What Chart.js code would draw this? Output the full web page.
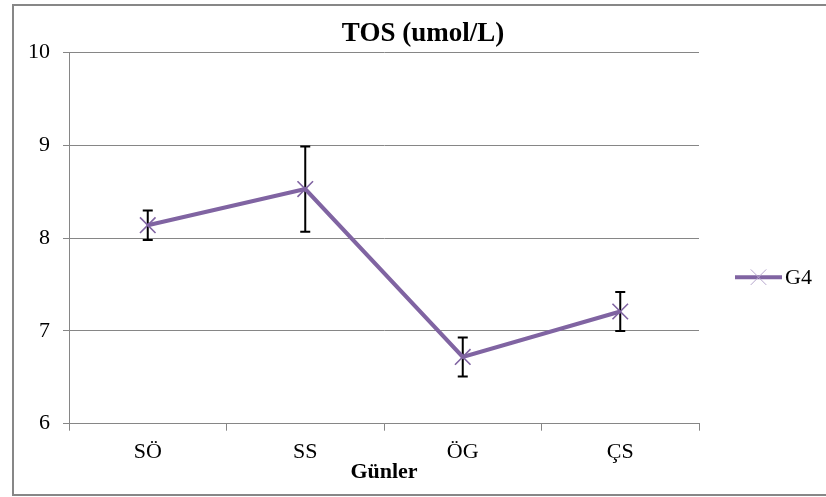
<!DOCTYPE html>
<html>
<head>
<meta charset="utf-8">
<script src="https://cdn.jsdelivr.net/npm/chart.js@4/dist/chart.umd.min.js"></script>
<style>
  html, body { margin: 0; padding: 0; background: #fff; width: 826px; height: 497px; overflow: hidden; }
  #frame { position: absolute; left: 12px; top: 4px; width: 900px; height: 492px; box-sizing: border-box; border: 2px solid #878787; }
  #c { position: absolute; left: 0; top: 0; }
</style>
</head>
<body>
<div id="frame"></div>
<canvas id="c" width="826" height="497"></canvas>
<script>
// Sampling days and G4 group TOS values (mean and error)
const days = ['SÖ', 'SS', 'ÖG', 'ÇS'];
const g4Mean = [8.14, 8.53, 6.72, 7.21];
const g4Err = [0.16, 0.46, 0.21, 0.21];
const yMin = 6;
const yMax = 10;
const yStep = 1;

const SERIF = "'Liberation Serif', 'Times New Roman', serif";
const PURPLE = '#8064A2';
const GRID = '#868686';

// Vertical error bars with caps, drawn under the series line
const errorBars = {
  id: 'errorBars',
  beforeDatasetsDraw(chart) {
    const { ctx } = chart;
    const yScale = chart.scales.y;
    const meta = chart.getDatasetMeta(0);
    ctx.save();
    ctx.strokeStyle = '#000';
    ctx.lineWidth = 2;
    meta.data.forEach((pt, i) => {
      const x = pt.x;
      const yTop = yScale.getPixelForValue(g4Mean[i] + g4Err[i]);
      const yBot = yScale.getPixelForValue(g4Mean[i] - g4Err[i]);
      ctx.beginPath();
      ctx.moveTo(x, yTop); ctx.lineTo(x, yBot);
      ctx.moveTo(x - 5, yTop); ctx.lineTo(x + 5, yTop);
      ctx.moveTo(x - 5, yBot); ctx.lineTo(x + 5, yBot);
      ctx.stroke();
    });
    ctx.restore();
  }
};

// Legend entry to the right of the plot: line sample with marker, then label
const sideLegend = {
  id: 'sideLegend',
  afterDraw(chart) {
    const { ctx, chartArea: a } = chart;
    const ds = chart.data.datasets[0];
    const x0 = a.right + 36;
    const x1 = x0 + 47;
    const y = a.top + (a.bottom - a.top) * 0.605;
    ctx.save();
    ctx.strokeStyle = ds.borderColor;
    ctx.lineWidth = ds.borderWidth;
    ctx.beginPath();
    ctx.moveTo(x0, y); ctx.lineTo(x1, y);
    ctx.stroke();
    ctx.strokeStyle = '#b5a5cc';
    ctx.lineWidth = 1;
    Chart.helpers.drawPoint(ctx, { pointStyle: 'crossRot', radius: 11, rotation: 0, borderWidth: 1 }, (x0 + x1) / 2, y);
    ctx.fillStyle = '#000';
    ctx.font = '22px ' + SERIF;
    ctx.textBaseline = 'middle';
    ctx.textAlign = 'left';
    ctx.fillText(ds.label, x1 + 3, y + 1);
    ctx.restore();
  }
};

new Chart(document.getElementById('c'), {
  type: 'line',
  data: {
    labels: days,
    datasets: [{
      label: 'G4',
      data: g4Mean,
      borderColor: PURPLE,
      backgroundColor: PURPLE,
      borderWidth: 4,
      tension: 0,
      pointStyle: 'crossRot',
      pointRadius: 11,
      pointBorderWidth: 1.6,
      pointBorderColor: PURPLE,
      pointHoverRadius: 11
    }]
  },
  options: {
    responsive: false,
    animation: false,
    devicePixelRatio: 1,
    events: [],
    layout: { padding: { left: 20, right: 0, top: 0, bottom: 0 } },
    plugins: {
      legend: { display: false },
      tooltip: { enabled: false },
      title: {
        display: true,
        text: 'TOS (umol/L)',
        color: '#000',
        font: { family: SERIF, size: 27, weight: 'bold', lineHeight: 1.2 },
        padding: { top: 18, bottom: 2.3 }
      }
    },
    scales: {
      x: {
        offset: true,
        afterFit(scale) { scale.height = 73.3; },
        grid: { drawOnChartArea: false, drawTicks: true, tickLength: 7, color: GRID, offset: true },
        border: { color: GRID, width: 1 },
        ticks: { color: '#000', font: { family: SERIF, size: 22 }, padding: 8, maxRotation: 0 },
        title: {
          display: true,
          text: 'Günler',
          color: '#000',
          font: { family: SERIF, size: 22, weight: 'bold', lineHeight: 1.2 },
          padding: { top: 0, bottom: 11 }
        }
      },
      y: {
        min: yMin,
        max: yMax,
        afterFit(scale) { scale.width = 49; },
        grid: { color: GRID, lineWidth: 1, tickLength: 6 },
        border: { color: GRID, width: 1 },
        ticks: { stepSize: yStep, color: '#000', font: { family: SERIF, size: 22 }, padding: 13 }
      },
      // Empty right-hand band that holds the legend
      side: {
        type: 'linear',
        position: 'right',
        afterFit(scale) { scale.width = 127; },
        grid: { display: false },
        border: { display: false },
        ticks: { display: false }
      }
    }
  },
  plugins: [errorBars, sideLegend]
});
</script>
</body>
</html>
